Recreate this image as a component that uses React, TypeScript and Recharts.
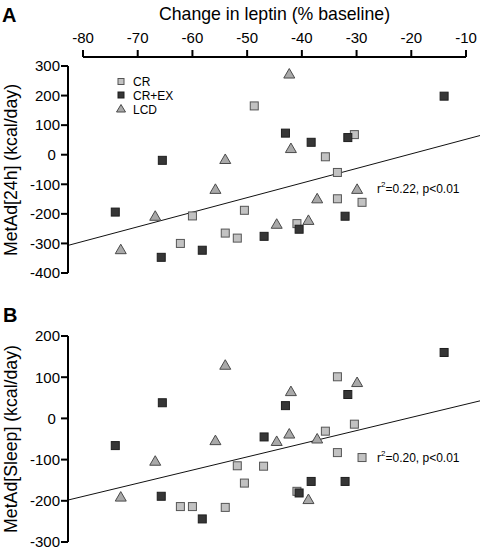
import { ScatterChart, Scatter, XAxis, YAxis, ReferenceLine } from 'recharts';

/* ------------------------------------------------------------------ */
/*  Data                                         */
/* ------------------------------------------------------------------ */

const X_TICKS = [-80, -70, -60, -50, -40, -30, -20, -10];
const Y_TICKS_24H = [-400, -300, -200, -100, 0, 100, 200, 300];
const Y_TICKS_SLEEP = [-300, -200, -100, 0, 100, 200];

// Panel A: MetAd[24h]
const CR_24H = [
  { x: -48.7, y: 165 },
  { x: -30.4, y: 68 },
  { x: -35.7, y: -7 },
  { x: -33.5, y: -60 },
  { x: -33.5, y: -149 },
  { x: -29, y: -161 },
  { x: -50.5, y: -188 },
  { x: -60, y: -207 },
  { x: -40.9, y: -233 },
  { x: -54, y: -265 },
  { x: -51.8, y: -282 },
  { x: -62.2, y: -300 },
];

const CREX_24H = [
  { x: -14, y: 198 },
  { x: -43, y: 73 },
  { x: -38.3, y: 42 },
  { x: -31.6, y: 58 },
  { x: -65.5, y: -19 },
  { x: -74.1, y: -194 },
  { x: -32.1, y: -208 },
  { x: -40.5, y: -252 },
  { x: -46.9, y: -276 },
  { x: -58.2, y: -323 },
  { x: -65.7, y: -347 },
];

const LCD_24H = [
  { x: -42.3, y: 270 },
  { x: -42, y: 18 },
  { x: -54, y: -19 },
  { x: -55.8, y: -120 },
  { x: -29.9, y: -120 },
  { x: -37.2, y: -152 },
  { x: -66.8, y: -211 },
  { x: -38.8, y: -225 },
  { x: -44.6, y: -238 },
  { x: -73.1, y: -324 },
];

const FIT_24H = [
  { x: -83, y: -308 },
  { x: -7, y: 67 },
];

// Panel B: MetAd[Sleep]
const CR_SLEEP = [
  { x: -33.5, y: 101 },
  { x: -30.4, y: -14 },
  { x: -35.7, y: -31 },
  { x: -33.5, y: -83 },
  { x: -29, y: -95 },
  { x: -51.8, y: -115 },
  { x: -47, y: -116 },
  { x: -50.5, y: -157 },
  { x: -40.9, y: -177 },
  { x: -62.2, y: -214 },
  { x: -60, y: -214 },
  { x: -54, y: -216 },
];

const CREX_SLEEP = [
  { x: -14, y: 160 },
  { x: -65.5, y: 38 },
  { x: -43, y: 31 },
  { x: -31.6, y: 58 },
  { x: -74.1, y: -66 },
  { x: -46.9, y: -45 },
  { x: -65.7, y: -189 },
  { x: -58.2, y: -244 },
  { x: -38.3, y: -153 },
  { x: -32.1, y: -153 },
  { x: -40.5, y: -181 },
];

const LCD_SLEEP = [
  { x: -54, y: 127 },
  { x: -42, y: 63 },
  { x: -29.9, y: 85 },
  { x: -55.8, y: -56 },
  { x: -44.6, y: -58 },
  { x: -42.3, y: -40 },
  { x: -37.2, y: -52 },
  { x: -66.8, y: -106 },
  { x: -73.1, y: -193 },
  { x: -38.8, y: -199 },
];

const FIT_SLEEP = [
  { x: -83, y: -199 },
  { x: -7, y: 44 },
];

/* ------------------------------------------------------------------ */
/*  Styles                                                             */
/* ------------------------------------------------------------------ */

const FONT = '"Liberation Sans", Arial, Helvetica, sans-serif';
const LIGHT = '#c2c2c2';
const DARK = '#363636';
const TRI = '#a9a9a9';
const X_PAD = { left: 15, right: 14 };

const tickStyle = { fill: '#000', fontSize: 15, fontFamily: FONT };
const yFormat = (v: number) => (v === 0 ? '0\u00A0' : `${v}`);

/* ------------------------------------------------------------------ */
/*  Marker shapes                                                      */
/* ------------------------------------------------------------------ */

function LightSquare(p: any) {
  return <rect x={p.cx - 4} y={p.cy - 4} width={8} height={8} fill={LIGHT} stroke="#555" strokeWidth={1} />;
}

function DarkSquare(p: any) {
  return <rect x={p.cx - 4} y={p.cy - 4} width={8} height={8} fill={DARK} stroke="#1e1e1e" strokeWidth={1} />;
}

function Triangle(p: any) {
  const r = 5.5;
  const h = r * Math.sqrt(3);
  const d = `M${p.cx},${p.cy - (2 * h) / 3} L${p.cx + r},${p.cy + h / 3} L${p.cx - r},${p.cy + h / 3} Z`;
  return <path d={d} fill={TRI} stroke="#4a4a4a" strokeWidth={1} />;
}

/* ------------------------------------------------------------------ */
/*  Component                                                          */
/* ------------------------------------------------------------------ */

export default function App() {
  return (
    <div
      style={{
        position: 'absolute',
        left: 0,
        top: 0,
        width: 480,
        height: 554,
        background: '#fff',
        fontFamily: FONT,
        overflow: 'hidden',
      }}
    >
      {/* Panel A */}
      <div style={{ position: 'absolute', left: 0, top: 0 }}>
        <ScatterChart width={480} height={280} margin={{ top: 0, right: 0, bottom: 7, left: 0 }}>
          <XAxis
            type="number"
            dataKey="x"
            orientation="top"
            height={57}
            domain={[-80, -10]}
            ticks={X_TICKS}
            padding={X_PAD}
            stroke="#000"
            axisLine={{ strokeWidth: 2, strokeDasharray: '0 15 383 100' }}
            tickLine={{ strokeWidth: 2 }}
            tickSize={7}
            tickMargin={7}
            tick={tickStyle}
            interval={0}
          />
          <YAxis
            type="number"
            dataKey="y"
            width={68}
            domain={[-400, 300]}
            ticks={Y_TICKS_24H}
            padding={{ top: 9, bottom: 0 }}
            stroke="#000"
            axisLine={{ strokeWidth: 2, strokeDasharray: '0 9 400' }}
            tickLine={{ strokeWidth: 2 }}
            tickSize={7}
            tickMargin={1}
            tick={tickStyle}
            tickFormatter={yFormat}
            interval={0}
          />
          <ReferenceLine
            segment={FIT_24H}
            stroke="#111"
            strokeWidth={1}
            ifOverflow="hidden"
          />
          <Scatter data={CR_24H} shape={LightSquare} isAnimationActive={false} />
          <Scatter data={CREX_24H} shape={DarkSquare} isAnimationActive={false} />
          <Scatter data={LCD_24H} shape={Triangle} isAnimationActive={false} />
        </ScatterChart>
      </div>

      {/* Panel B */}
      <div style={{ position: 'absolute', left: 0, top: 280 }}>
        <ScatterChart width={480} height={274} margin={{ top: 56, right: 0, bottom: 12, left: 0 }}>
          <XAxis
            type="number"
            dataKey="x"
            hide
            domain={[-80, -10]}
            padding={X_PAD}
          />
          <YAxis
            type="number"
            dataKey="y"
            width={68}
            domain={[-300, 200]}
            ticks={Y_TICKS_SLEEP}
            stroke="#000"
            axisLine={{ strokeWidth: 2 }}
            tickLine={{ strokeWidth: 2 }}
            tickSize={7}
            tickMargin={1}
            tick={tickStyle}
            tickFormatter={yFormat}
            interval={0}
          />
          <ReferenceLine
            segment={FIT_SLEEP}
            stroke="#111"
            strokeWidth={1}
            ifOverflow="hidden"
          />
          <Scatter data={CR_SLEEP} shape={LightSquare} isAnimationActive={false} />
          <Scatter data={CREX_SLEEP} shape={DarkSquare} isAnimationActive={false} />
          <Scatter data={LCD_SLEEP} shape={Triangle} isAnimationActive={false} />
        </ScatterChart>
      </div>

      {/* Text, legend and labels */}
      <svg
        width={480}
        height={554}
        style={{ position: 'absolute', left: 0, top: 0, pointerEvents: 'none' }}
        fontFamily={FONT}
      >
        <text x={2} y={22} fontSize={20} fontWeight="bold" fill="#000">A</text>
        <text x={3} y={322} fontSize={20} fontWeight="bold" fill="#000">B</text>

        <text x={274.5} y={19.5} fontSize={17.7} textAnchor="middle" fill="#000">
          Change in leptin (% baseline)
        </text>

        <text x={17} y={170} fontSize={17.7} textAnchor="middle" fill="#000" transform="rotate(-90, 17, 170)">
          MetAd[24h] (kcal/day)
        </text>
        <text x={17} y={439} fontSize={17.7} textAnchor="middle" fill="#000" transform="rotate(-90, 17, 439)">
          MetAd[Sleep] (kcal/day)
        </text>

        {/* legend */}
        <rect x={118} y={78.5} width={6} height={6} fill={LIGHT} stroke="#555" strokeWidth={1} />
        <rect x={118} y={92} width={6} height={6} fill={DARK} stroke="#1e1e1e" strokeWidth={1} />
        <path d="M121,104.5 L125.5,112 L116.5,112 Z" fill={TRI} stroke="#4a4a4a" strokeWidth={1} />
        <text x={133} y={86} fontSize={12} fill="#000">CR</text>
        <text x={133} y={100} fontSize={12} fill="#000">CR+EX</text>
        <text x={133} y={114} fontSize={12} fill="#000">LCD</text>

        {/* fit statistics */}
        <text x={377} y={193} fontSize={12} fill="#000">
          r<tspan fontSize={8} dy={-6}>2</tspan>
          <tspan dy={6}>=0.22, p&lt;0.01</tspan>
        </text>
        <text x={377} y={462} fontSize={12} fill="#000">
          r<tspan fontSize={8} dy={-6}>2</tspan>
          <tspan dy={6}>=0.20, p&lt;0.01</tspan>
        </text>
      </svg>
    </div>
  );
}
